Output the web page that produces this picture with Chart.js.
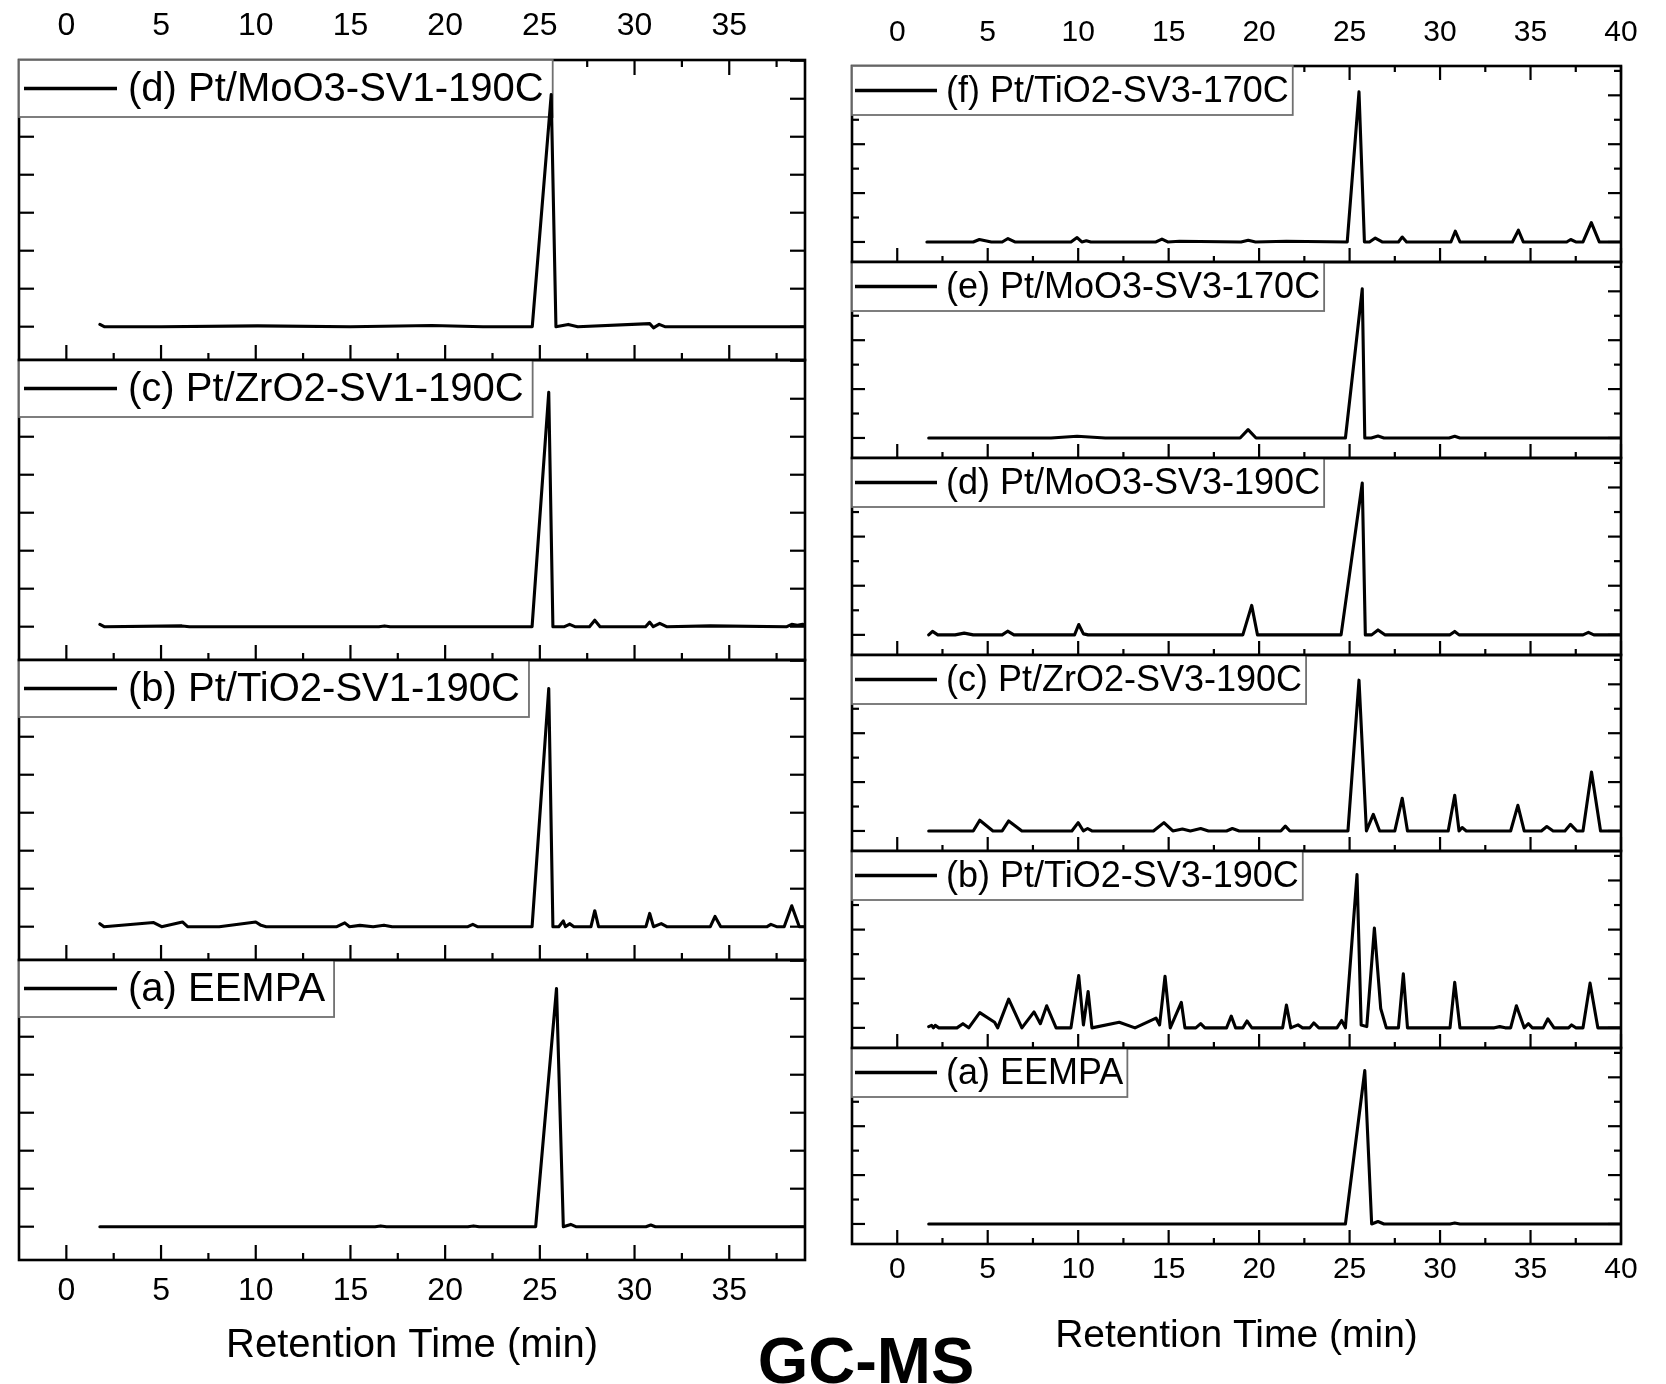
<!DOCTYPE html>
<html>
<head>
<meta charset="utf-8">
<script src="https://cdn.jsdelivr.net/npm/chart.js@4.4.1/dist/chart.umd.min.js"></script>
<style>
html,body{margin:0;padding:0;background:#fff;}
body{width:1666px;height:1384px;position:relative;overflow:hidden;font-family:"Liberation Sans",Arial,sans-serif;}
canvas{position:absolute;}
#gcms{position:absolute;left:666px;width:400px;top:1328px;text-align:center;font-size:65px;line-height:65px;font-weight:bold;color:#000;}
</style>
</head>
<body>
<div id="gcms">GC-MS</div>
<script>
// ---------- tick values / labels ----------
const leftTickVals = [0, 5, 10, 15, 20, 25, 30, 35];
const leftTickLabels = ['0', '5', '10', '15', '20', '25', '30', '35'];
const leftMinorTicks = [2.5, 7.5, 12.5, 17.5, 22.5, 27.5, 32.5, 37.5];
const rightTickVals = [0, 5, 10, 15, 20, 25, 30, 35, 40];
const rightTickLabels = ['0', '5', '10', '15', '20', '25', '30', '35', '40'];
const rightMinorTicks = [2.5, 7.5, 12.5, 17.5, 22.5, 27.5, 32.5, 37.5];
const leftYTicks = [0, 1, 2, 3, 4, 5, 6, 7];
const rightYMajor = [0, 2, 4, 6];
const rightYMinor = [1, 3, 5, 7];
const xTitle = 'Retention Time (min)';

// ---------- series labels ----------
const leftLabels = ['(d) Pt/MoO3-SV1-190C', '(c) Pt/ZrO2-SV1-190C', '(b) Pt/TiO2-SV1-190C', '(a) EEMPA'];
const rightLabels = ['(f) Pt/TiO2-SV3-170C', '(e) Pt/MoO3-SV3-170C', '(d) Pt/MoO3-SV3-190C', '(c) Pt/ZrO2-SV3-190C', '(b) Pt/TiO2-SV3-190C', '(a) EEMPA'];

// ---------- left column (SV1) : retention time (min) / intensity (a.u., tick units) ----------
const timeL_d = [1.77, 2.0, 5.0, 10.1, 15.0, 19.3, 22.0, 24.6, 25.6, 25.85, 26.5, 27.0, 30.8, 31.0, 31.3, 31.6, 39.0];
const sigL_d  = [0.06, 0, 0, 0.02, 0, 0.03, 0, 0, 6.11, 0, 0.06, 0, 0.08, -0.03, 0.06, 0, 0];

const timeL_c = [1.77, 2.0, 6.1, 6.5, 16.5, 16.8, 17.1, 24.59, 25.47, 25.69, 26.3, 26.57, 26.85, 27.62, 27.9, 28.18, 30.58, 30.8, 30.99, 31.33, 31.69, 34.0, 38.04, 38.3, 38.6, 38.87, 39.0];
const sigL_c  = [0.06, 0, 0.02, 0, 0, 0.02, 0, 0, 6.17, 0, 0, 0.06, 0, 0, 0.17, 0, 0, 0.12, 0, 0.09, 0, 0.02, 0, 0.06, 0.04, 0.06, 0.05];

const timeL_b = [1.77, 1.99, 4.61, 5.03, 6.13, 6.4, 8.07, 10.0, 10.28, 10.55, 14.28, 14.7, 14.95, 15.5, 16.2, 16.77, 17.2, 21.2, 21.46, 21.7, 24.59, 25.47, 25.69, 26.0, 26.24, 26.35, 26.57, 26.8, 27.7, 27.9, 28.1, 30.6, 30.8, 31.0, 31.41, 31.7, 34.0, 34.25, 34.55, 37.0, 37.2, 37.5, 37.9, 38.3, 38.7, 39.0];
const sigL_b  = [0.08, 0, 0.11, 0, 0.125, 0, 0, 0.125, 0.035, 0, 0, 0.1, 0, 0.035, 0, 0.04, 0, 0, 0.06, 0, 0, 6.27, 0, 0, 0.15, 0, 0.08, 0, 0, 0.42, 0, 0, 0.35, 0, 0.08, 0, 0, 0.27, 0, 0, 0.06, 0, 0, 0.55, 0, 0];

const timeL_a = [1.77, 16.3, 16.6, 16.9, 21.2, 21.5, 21.8, 24.78, 25.88, 26.24, 26.63, 26.9, 30.6, 30.86, 31.1, 39.0];
const sigL_a  = [0, 0, 0.02, 0, 0, 0.02, 0, 0, 6.27, 0, 0.06, 0, 0, 0.045, 0, 0];

// ---------- right column (SV3) ----------
const timeR_f = [1.64, 4.2, 4.54, 5.2, 5.8, 6.12, 6.5, 9.6, 9.94, 10.2, 10.45, 10.7, 14.3, 14.63, 14.95, 15.6, 19.0, 19.4, 19.8, 21.5, 24.87, 25.52, 25.82, 26.1, 26.42, 26.8, 27.7, 27.91, 28.15, 30.6, 30.84, 31.1, 34.0, 34.33, 34.6, 37.0, 37.22, 37.5, 37.9, 38.36, 38.8, 40.0];
const sigR_f  = [0, 0, 0.1, 0, 0, 0.14, 0, 0, 0.18, 0, 0.05, 0, 0, 0.12, 0, 0.03, 0, 0.07, 0, 0.03, 0, 6.14, 0, 0, 0.16, 0, 0, 0.2, 0, 0, 0.44, 0, 0, 0.48, 0, 0, 0.1, 0, 0, 0.79, 0, 0];

const timeR_e = [1.74, 8.5, 9.94, 11.5, 18.95, 19.39, 19.83, 24.77, 25.7, 25.84, 26.2, 26.57, 26.9, 30.5, 30.81, 31.1, 40.0];
const sigR_e  = [0, 0, 0.07, 0, 0, 0.34, 0, 0, 6.1, 0, 0, 0.08, 0, 0, 0.07, 0, 0];

const timeR_d = [1.74, 1.95, 2.24, 3.2, 3.7, 4.2, 5.8, 6.1, 6.45, 9.8, 10.03, 10.29, 10.55, 19.1, 19.59, 19.91, 24.53, 25.7, 25.87, 26.22, 26.57, 26.95, 30.55, 30.81, 31.05, 37.9, 38.2, 38.5, 40.0];
const sigR_d  = [0, 0.14, 0, 0, 0.07, 0, 0, 0.15, 0, 0, 0.42, 0.04, 0, 0, 1.2, 0, 0, 6.18, 0, 0, 0.2, 0, 0, 0.14, 0, 0, 0.1, 0, 0];

const timeR_c = [1.74, 4.2, 4.56, 5.29, 5.8, 6.16, 6.89, 9.65, 10.0, 10.29, 10.52, 10.76, 14.16, 14.74, 15.23, 15.76, 16.2, 16.77, 17.2, 18.2, 18.52, 18.9, 21.2, 21.45, 21.7, 24.91, 25.52, 25.93, 26.31, 26.66, 27.5, 27.91, 28.2, 30.45, 30.81, 31.05, 31.22, 31.45, 33.9, 34.3, 34.65, 35.6, 35.9, 36.25, 36.9, 37.21, 37.56, 37.9, 38.37, 38.87, 40.0];
const sigR_c  = [0, 0, 0.44, 0, 0, 0.41, 0, 0, 0.34, 0, 0.1, 0, 0, 0.34, 0, 0.08, 0, 0.1, 0, 0, 0.1, 0, 0, 0.2, 0, 0, 6.17, 0, 0.68, 0, 0, 1.34, 0, 0, 1.46, 0, 0.14, 0, 0, 1.05, 0, 0, 0.18, 0, 0, 0.27, 0, 0, 2.41, 0, 0];

const timeR_b = [1.74, 1.9, 2.0, 2.1, 2.3, 3.3, 3.63, 3.95, 4.56, 5.38, 5.55, 6.16, 6.89, 7.56, 7.91, 8.26, 8.78, 9.6, 10.03, 10.29, 10.55, 10.76, 12.27, 13.14, 14.3, 14.5, 14.8, 15.09, 15.7, 15.9, 16.5, 16.77, 17.0, 18.2, 18.46, 18.7, 19.1, 19.33, 19.6, 21.3, 21.51, 21.75, 22.15, 22.4, 22.8, 23.02, 23.3, 24.3, 24.56, 24.77, 25.41, 25.64, 25.95, 26.37, 26.72, 27.03, 27.7, 27.97, 28.2, 30.55, 30.81, 31.1, 33.0, 33.3, 33.6, 33.9, 34.22, 34.65, 34.88, 35.1, 35.7, 35.96, 36.3, 37.1, 37.27, 37.5, 37.9, 38.29, 38.72, 40.0];
const sigR_b  = [0.05, 0.1, 0, 0.1, 0, 0, 0.17, 0, 0.62, 0.23, 0, 1.17, 0, 0.65, 0.17, 0.9, 0, 0, 2.13, 0.12, 1.48, 0, 0.23, 0, 0.4, 0.12, 2.1, 0, 1.04, 0, 0, 0.17, 0, 0, 0.48, 0, 0, 0.28, 0, 0, 0.93, 0, 0.12, 0, 0, 0.2, 0, 0, 0.3, 0, 6.24, 0.12, 0.05, 4.06, 0.79, 0, 0, 2.2, 0, 0, 1.85, 0, 0, 0.05, 0, 0, 0.9, 0, 0.17, 0, 0, 0.37, 0, 0, 0.12, 0, 0, 1.82, 0, 0];

const timeR_a = [1.74, 24.77, 25.84, 26.22, 26.57, 26.9, 30.55, 30.81, 31.1, 40.0];
const sigR_a  = [0, 0, 6.28, 0, 0.1, 0, 0, 0.04, 0, 0];

// ---------- drawing ----------
const FONT = '"Liberation Sans", Arial, sans-serif';
Chart.defaults.font.family = FONT;
Chart.defaults.color = '#000';

const panelDecor = {
  id: 'panelDecor',
  beforeDatasetsDraw(chart, args, o) {
    const ctx = chart.ctx, a = chart.chartArea, x = chart.scales.x, y = chart.scales.y;
    ctx.save();
    ctx.strokeStyle = '#000';
    ctx.lineCap = 'butt';
    // x ticks (inward)
    ctx.lineWidth = 2.2;
    const xt = (vals, len) => vals.forEach(v => {
      const px = x.getPixelForValue(v);
      ctx.beginPath(); ctx.moveTo(px, a.bottom); ctx.lineTo(px, a.bottom - len); ctx.stroke();
      if (o.topTicks) { ctx.beginPath(); ctx.moveTo(px, a.top); ctx.lineTo(px, a.top + len); ctx.stroke(); }
    });
    xt(o.xMajor, o.xMajorLen);
    xt(o.xMinor, o.xMinorLen);
    // y ticks (inward, both sides)
    const yt = (vals, len) => vals.forEach(v => {
      const py = y.getPixelForValue(v);
      ctx.beginPath(); ctx.moveTo(a.left, py); ctx.lineTo(a.left + len, py); ctx.stroke();
      ctx.beginPath(); ctx.moveTo(a.right, py); ctx.lineTo(a.right - len, py); ctx.stroke();
    });
    yt(o.yMajor, o.yMajorLen);
    yt(o.yMinor, o.yMinorLen);
    // frame
    ctx.lineWidth = 2.6;
    ctx.strokeRect(a.left, a.top, a.right - a.left, a.bottom - a.top);
    // legend box
    const label = chart.data.datasets[0].label;
    ctx.font = o.legendSize + 'px ' + FONT;
    const tw = ctx.measureText(label).width;
    const w = o.textX + tw + o.textPad;
    ctx.fillStyle = '#fff';
    ctx.fillRect(a.left, a.top, w, o.boxH);
    ctx.strokeStyle = '#707070';
    ctx.lineWidth = 1.8;
    ctx.strokeRect(a.left, a.top, w, o.boxH);
    ctx.strokeStyle = '#000';
    ctx.lineWidth = 3.4;
    ctx.beginPath();
    ctx.moveTo(a.left + o.lineX0, a.top + o.lineY);
    ctx.lineTo(a.left + o.lineX1, a.top + o.lineY);
    ctx.stroke();
    ctx.fillStyle = '#000';
    ctx.textBaseline = 'middle';
    ctx.textAlign = 'left';
    ctx.fillText(label, a.left + o.textX, a.top + o.textY);
    ctx.restore();
  }
};

function makePanel(c) {
  const cv = document.createElement('canvas');
  cv.width = c.cw; cv.height = c.ch;
  cv.style.left = c.cx + 'px'; cv.style.top = c.cy + 'px'; cv.style.zIndex = c.z;
  document.body.appendChild(cv);
  const showAxis = c.axisPos !== null;
  new Chart(cv.getContext('2d'), {
    type: 'line',
    data: {
      datasets: [{
        label: c.label,
        data: c.t.map((v, i) => ({x: v, y: c.s[i]})),
        borderColor: '#000', borderWidth: 3.1, borderJoinStyle: 'round', borderCapStyle: 'round',
        pointRadius: 0, tension: 0, fill: false
      }]
    },
    options: {
      responsive: false, animation: false, events: [], devicePixelRatio: 1,
      layout: {padding: {left: c.pl, right: c.pr, top: c.pt, bottom: c.pb}},
      scales: {
        x: {
          type: 'linear', min: c.xmin, max: c.xmax,
          display: showAxis,
          position: c.axisPos || 'bottom',
          grid: {display: false, drawTicks: false},
          border: {display: false},
          afterBuildTicks: s => { s.ticks = c.tickVals.map(v => ({value: v})); },
          afterFit: s => { s.height = c.axisH; },
          ticks: {autoSkip: false, maxRotation: 0, minRotation: 0, color: '#000',
                  font: {family: FONT, size: c.tickSize}, padding: c.tickPad,
                  callback: (v, i) => c.tickLabels[i]},
          title: {display: !!c.title, text: c.title || '', color: '#000',
                  font: {family: FONT, size: c.titleSize}, padding: {top: 0, bottom: 0}}
        },
        y: {type: 'linear', display: false, min: c.ymin, max: c.ymax}
      },
      plugins: {
        legend: {display: false},
        tooltip: {enabled: false},
        panelDecor: c.decor
      }
    },
    plugins: [panelDecor]
  });
}

const leftDecor = (top) => ({topTicks: top, xMajor: leftTickVals, xMinor: leftMinorTicks, xMajorLen: 15, xMinorLen: 7,
  yMajor: leftYTicks, yMinor: [], yMajorLen: 15, yMinorLen: 0,
  boxH: 57, lineX0: 5, lineX1: 98, lineY: 28.5, textX: 109, textY: 30, textPad: 9, legendSize: 40});
const rightDecor = (top) => ({topTicks: top, xMajor: rightTickVals, xMinor: rightMinorTicks, xMajorLen: 14, xMinorLen: 6,
  yMajor: rightYMajor, yMinor: rightYMinor, yMajorLen: 13, yMinorLen: 7,
  boxH: 49, lineX0: 3, lineX1: 85, lineY: 24.5, textX: 94, textY: 26, textPad: 4, legendSize: 36});

// left column: frames 60-360-660-960-1260, x 19..805
const leftSeries = [[timeL_d, sigL_d], [timeL_c, sigL_c], [timeL_b, sigL_b], [timeL_a, sigL_a]];
const leftTops = [60, 360, 660, 960];
leftSeries.forEach((ser, i) => {
  const first = i === 0, last = i === leftSeries.length - 1;
  const axisH = first ? 60 : (last ? 110 : 0);
  const cy = first ? 0 : leftTops[i] - 10;
  const ch = first ? 60 + 300 + 10 : (last ? 10 + 300 + 110 : 320);
  makePanel({
    label: leftLabels[i], t: ser[0], s: ser[1],
    cx: 4, cy: cy, cw: 821, ch: ch, z: 20 - i,
    pl: 15, pr: 20, pt: first ? 0 : 10, pb: last ? 0 : 10,
    xmin: -2.5, xmax: 39, ymin: -0.877, ymax: 7.02,
    axisPos: first ? 'top' : (last ? 'bottom' : null), axisH: axisH,
    tickVals: leftTickVals, tickLabels: leftTickLabels, tickSize: 32,
    tickPad: first ? 14.8 : 11.8,
    title: last ? xTitle : null, titleSize: 40,
    decor: leftDecor(first)
  });
});

// right column: frames 66-262-458-655-851-1048-1244, x 852..1621
const rightSeries = [[timeR_f, sigR_f], [timeR_e, sigR_e], [timeR_d, sigR_d], [timeR_c, sigR_c], [timeR_b, sigR_b], [timeR_a, sigR_a]];
const rightBounds = [66, 262, 458, 655, 851, 1048, 1244];
rightSeries.forEach((ser, i) => {
  const first = i === 0, last = i === rightSeries.length - 1;
  const h = rightBounds[i + 1] - rightBounds[i];
  const axisH = first ? 66 : (last ? 116 : 0);
  const cy = first ? 0 : rightBounds[i] - 10;
  const ch = first ? 66 + h + 10 : (last ? 10 + h + 116 : 10 + h + 10);
  makePanel({
    label: rightLabels[i], t: ser[0], s: ser[1],
    cx: 837, cy: cy, cw: 824, ch: ch, z: 20 - i,
    pl: 15, pr: 40, pt: first ? 0 : 10, pb: last ? 0 : 10,
    xmin: -2.5, xmax: 40, ymin: -0.82, ymax: 7.2,
    axisPos: first ? 'top' : (last ? 'bottom' : null), axisH: axisH,
    tickVals: rightTickVals, tickLabels: rightTickLabels, tickSize: 30,
    tickPad: first ? 15.5 : 8,
    title: last ? xTitle : null, titleSize: 39,
    decor: rightDecor(first)
  });
});
</script>
</body>
</html>
